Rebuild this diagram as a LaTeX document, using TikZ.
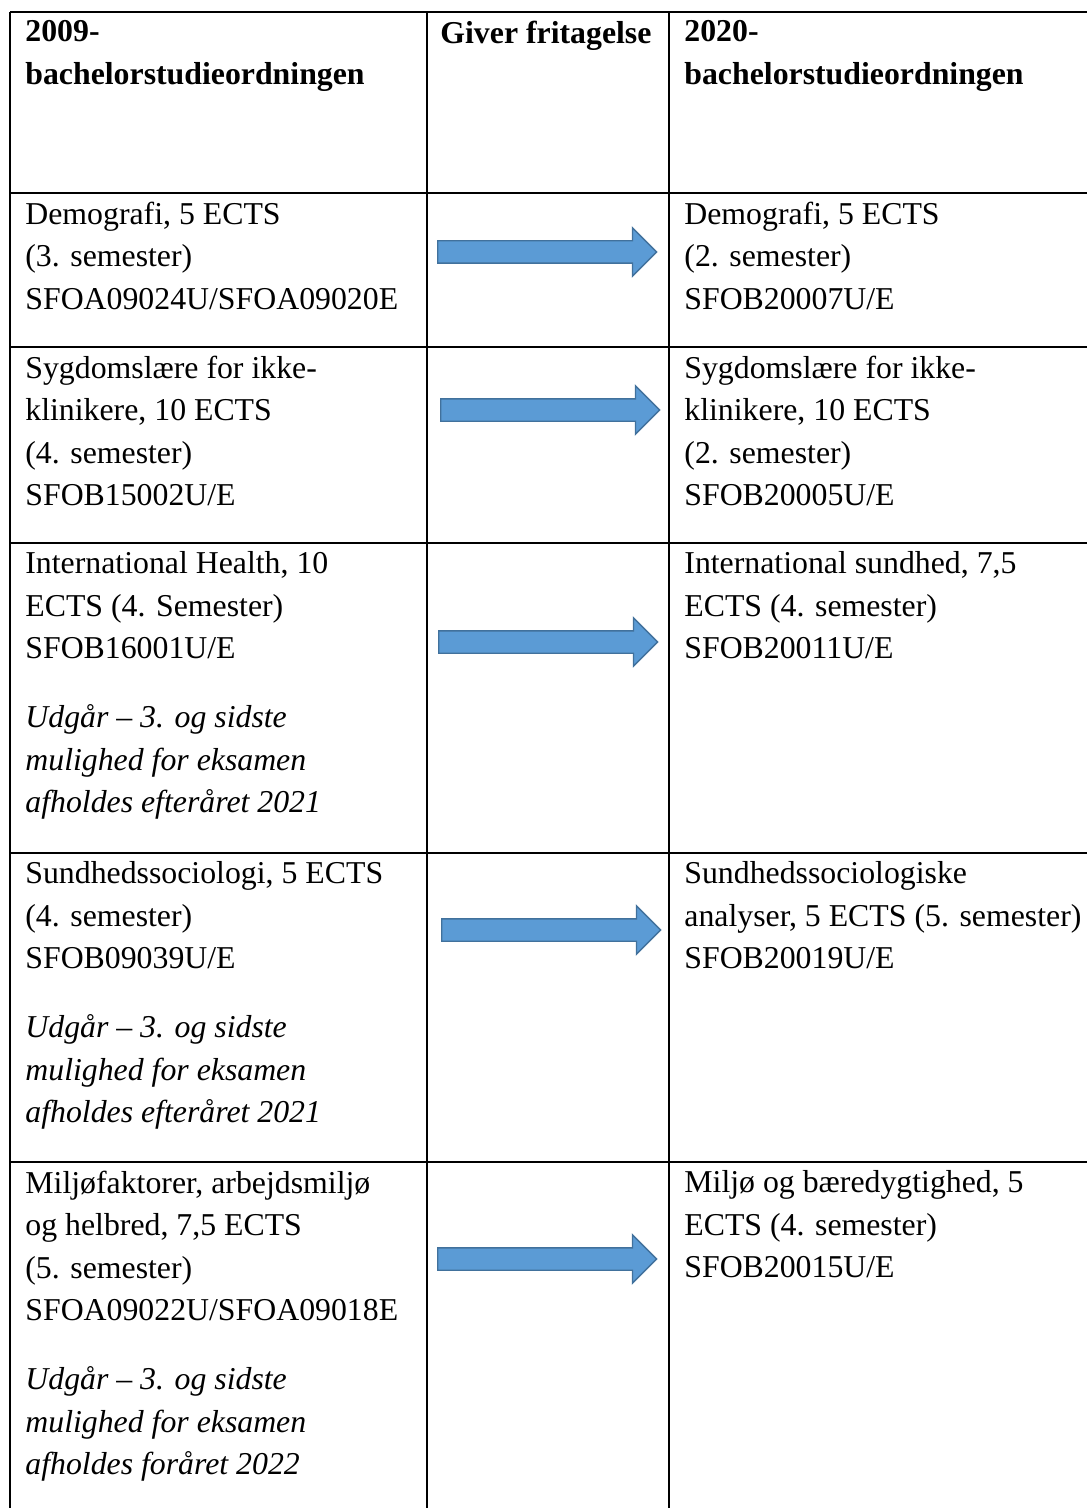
\documentclass[tikz,border=0pt]{standalone}
\usepackage{fontspec}
\setmainfont{Liberation Serif}
\usetikzlibrary{shapes.arrows}
\definecolor{arrowfill}{HTML}{5B9BD5}
\definecolor{arrowedge}{HTML}{41719C}

\begin{document}
\begin{tikzpicture}[x=0.5pt, y=-0.5pt,
    cell/.style={anchor=north west, inner sep=0pt, align=left, yshift=-4.15pt,
        font=\fontsize{15.9}{21.25}\selectfont},
    headcell/.style={cell, font=\fontsize{15.9}{21.25}\selectfont\bfseries},
    rule/.style={line width=1pt},
    giver/.style={single arrow, draw=arrowedge, fill=arrowfill, line width=0.7pt, inner sep=5.25pt,
        minimum height=109.5pt, single arrow head extend=6.5pt, anchor=tail}]
    \useasboundingbox (0,0) rectangle (1087,1508);

    \draw[rule] (10,12) -- (1087,12);
    \draw[rule] (10,193) -- (1087,193);
    \draw[rule] (10,347) -- (1087,347);
    \draw[rule] (10,543) -- (1087,543);
    \draw[rule] (10,853) -- (1087,853);
    \draw[rule] (10,1162) -- (1087,1162);
    \draw[rule] (10,12) -- (10,1508);
    \draw[rule] (427,12) -- (427,1508);
    \draw[rule] (669,12) -- (669,1508);

    \node[headcell] (old0) at (25,12) {2009-\\bachelorstudieordningen};
    \node[headcell] (giver0) at (440,12) {Giver fritagelse};
    \node[headcell] (new0) at (684,12) {2020-\\bachelorstudieordningen};

    \node[cell] (old1) at (25,193) {Demografi, 5 ECTS\\(3. semester)\\SFOA09024U/SFOA09020E};
    \node[cell] (new1) at (684,193) {Demografi, 5 ECTS\\(2. semester)\\SFOB20007U/E};
    \node[giver] (a1) at (437,252) {};

    \node[cell] (old2) at (25,347) {Sygdomslære for ikke-\\klinikere, 10 ECTS\\(4. semester)\\SFOB15002U/E};
    \node[cell] (new2) at (684,347) {Sygdomslære for ikke-\\klinikere, 10 ECTS\\(2. semester)\\SFOB20005U/E};
    \node[giver] (a2) at (440,410) {};

    \node[cell] (old3) at (25,543) {International Health, 10\\ECTS (4. Semester)\\SFOB16001U/E\\[13.25pt]
        \itshape Udgår -- 3. og sidste\\\itshape mulighed for eksamen\\\itshape afholdes efteråret 2021};
    \node[cell] (new3) at (684,543) {International sundhed, 7,5\\ECTS (4. semester)\\SFOB20011U/E};
    \node[giver] (a3) at (438,642) {};

    \node[cell] (old4) at (25,853) {Sundhedssociologi, 5 ECTS\\(4. semester)\\SFOB09039U/E\\[13.25pt]
        \itshape Udgår -- 3. og sidste\\\itshape mulighed for eksamen\\\itshape afholdes efteråret 2021};
    \node[cell] (new4) at (684,853) {Sundhedssociologiske\\analyser, 5 ECTS (5. semester)\\SFOB20019U/E};
    \node[giver] (a4) at (441,930) {};

    \node[cell] (old5) at (25,1162) {Miljøfaktorer, arbejdsmiljø\\og helbred, 7,5 ECTS\\(5. semester)\\SFOA09022U/SFOA09018E\\[13.25pt]
        \itshape Udgår -- 3. og sidste\\\itshape mulighed for eksamen\\\itshape afholdes foråret 2022};
    \node[cell] (new5) at (684,1162) {Miljø og bæredygtighed, 5\\ECTS (4. semester)\\SFOB20015U/E};
    \node[giver] (a5) at (437,1259) {};
\end{tikzpicture}
\end{document}
